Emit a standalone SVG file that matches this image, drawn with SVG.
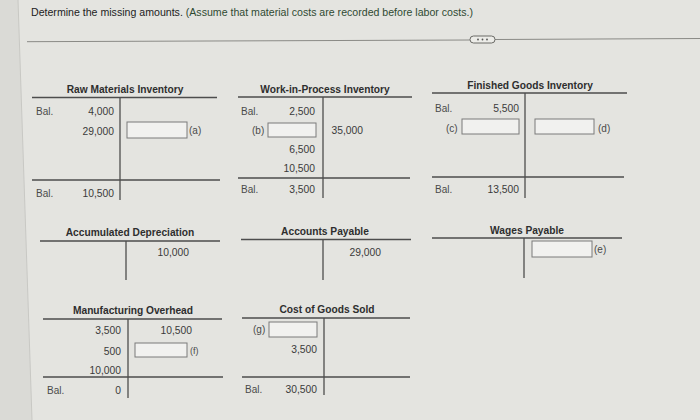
<svg xmlns="http://www.w3.org/2000/svg" width="700" height="420" viewBox="0 0 700 420">
<style>
text{font-family:"Liberation Sans",Arial,sans-serif;fill:#333}
.t{font-size:10.2px;font-weight:bold;text-anchor:middle;fill:#2e2e2e}
.n{font-size:10.3px;text-anchor:end;fill:#3a3a3a}
.l{font-size:10px;fill:#4a4a4a}
.ln{stroke:#4d4d4d;stroke-width:1.3;fill:none}
.bx{fill:#f1f1ef;stroke:#7a7a7a;stroke-width:1}
</style>
<rect width="700" height="420" fill="#e4e4e0"/>
<polygon points="0,0 18,0 32,420 0,420" fill="#dadad6"/>
<line x1="18" y1="0" x2="32" y2="420" stroke="#c8c8c4" stroke-width="1"/>
<text x="31" y="16" style="font-size:10.5px;fill:#222" textLength="442" lengthAdjust="spacingAndGlyphs">Determine the missing amounts. <tspan style="fill:#2f4a32">(Assume that material costs are recorded before labor costs.)</tspan></text>
<line x1="27" y1="41.7" x2="470" y2="40" stroke="#8a8a86" stroke-width="1"/>
<line x1="495" y1="39.5" x2="700" y2="38.5" stroke="#8a8a86" stroke-width="1"/>
<rect x="470" y="36" width="25" height="7" rx="3.5" fill="#ecece8" stroke="#6a6a66" stroke-width="1"/>
<circle cx="478" cy="39.5" r="0.9" fill="#555"/><circle cx="482.5" cy="39.5" r="0.9" fill="#555"/><circle cx="487" cy="39.5" r="0.9" fill="#555"/>

<g id="raw-materials">
<text class="t" x="125" y="93">Raw Materials Inventory</text>
<line class="ln" x1="32" y1="97.5" x2="217" y2="97.5"/>
<line class="ln" x1="120" y1="97.5" x2="120" y2="200"/>
<text class="l" x="36" y="115">Bal.</text>
<text class="n" x="114" y="115">4,000</text>
<text class="n" x="114" y="135">29,000</text>
<rect class="bx" x="127" y="122" width="60" height="16"/>
<text class="l" x="189" y="134">(a)</text>
<line class="ln" x1="32" y1="180" x2="220" y2="180"/>
<text class="l" x="36" y="197">Bal.</text>
<text class="n" x="114" y="197">10,500</text>
</g>

<g id="work-in-process">
<text class="t" x="325" y="93">Work-in-Process Inventory</text>
<line class="ln" x1="238" y1="97" x2="412" y2="97"/>
<line class="ln" x1="323" y1="97" x2="323" y2="198"/>
<text class="l" x="241" y="115">Bal.</text>
<text class="n" x="315" y="115">2,500</text>
<text class="l" x="252" y="134">(b)</text>
<rect class="bx" x="268" y="123" width="48" height="14"/>
<text class="n" x="363" y="134">35,000</text>
<text class="n" x="315" y="153">6,500</text>
<text class="n" x="315" y="172">10,500</text>
<line class="ln" x1="238" y1="178" x2="410" y2="178"/>
<text class="l" x="241" y="193">Bal.</text>
<text class="n" x="315" y="193">3,500</text>
</g>

<g id="finished-goods">
<text class="t" x="530" y="89">Finished Goods Inventory</text>
<line class="ln" x1="432" y1="93" x2="627" y2="93"/>
<line class="ln" x1="525" y1="93" x2="525" y2="198"/>
<text class="l" x="435" y="112">Bal.</text>
<text class="n" x="519" y="112">5,500</text>
<text class="l" x="446" y="132">(c)</text>
<rect class="bx" x="462" y="119" width="57" height="15"/>
<rect class="bx" x="535" y="119" width="59" height="15"/>
<text class="l" x="598" y="132">(d)</text>
<line class="ln" x1="432" y1="177" x2="624" y2="177"/>
<text class="l" x="435" y="193">Bal.</text>
<text class="n" x="519" y="193">13,500</text>
</g>

<g id="accumulated-depreciation">
<text class="t" x="130" y="236">Accumulated Depreciation</text>
<line class="ln" x1="40" y1="241" x2="220" y2="241"/>
<line class="ln" x1="126" y1="241" x2="126" y2="280"/>
<text class="n" x="189" y="256">10,000</text>
</g>

<g id="accounts-payable">
<text class="t" x="325" y="235">Accounts Payable</text>
<line class="ln" x1="241" y1="239.5" x2="411" y2="239.5"/>
<line class="ln" x1="323" y1="239.5" x2="323" y2="280"/>
<text class="n" x="381" y="256">29,000</text>
</g>

<g id="wages-payable">
<text class="t" x="527" y="234">Wages Payable</text>
<line class="ln" x1="432" y1="238" x2="622" y2="238"/>
<line class="ln" x1="524" y1="238" x2="524" y2="278"/>
<rect class="bx" x="532" y="241" width="60" height="16"/>
<text class="l" x="594" y="253">(e)</text>
</g>

<g id="manufacturing-overhead">
<text class="t" x="133" y="314">Manufacturing Overhead</text>
<line class="ln" x1="43" y1="319" x2="222" y2="319"/>
<line class="ln" x1="128" y1="319" x2="128" y2="398"/>
<text class="n" x="121" y="334">3,500</text>
<text class="n" x="192" y="334">10,500</text>
<text class="n" x="121" y="355">500</text>
<rect class="bx" x="135" y="343" width="52" height="14"/>
<text class="l" x="190" y="354" style="font-size:9px">(f)</text>
<text class="n" x="121" y="374">10,000</text>
<line class="ln" x1="43" y1="377" x2="223" y2="377"/>
<text class="l" x="47" y="394">Bal.</text>
<text class="n" x="121" y="394">0</text>
</g>

<g id="cost-of-goods-sold">
<text class="t" x="327" y="313">Cost of Goods Sold</text>
<line class="ln" x1="242" y1="318" x2="410" y2="318"/>
<line class="ln" x1="324" y1="318" x2="324" y2="395"/>
<text class="l" x="253" y="333">(g)</text>
<rect class="bx" x="269" y="322" width="48" height="15"/>
<text class="n" x="317" y="353">3,500</text>
<line class="ln" x1="242" y1="377" x2="410" y2="377"/>
<text class="l" x="245" y="393">Bal.</text>
<text class="n" x="317" y="393">30,500</text>
</g>
</svg>
